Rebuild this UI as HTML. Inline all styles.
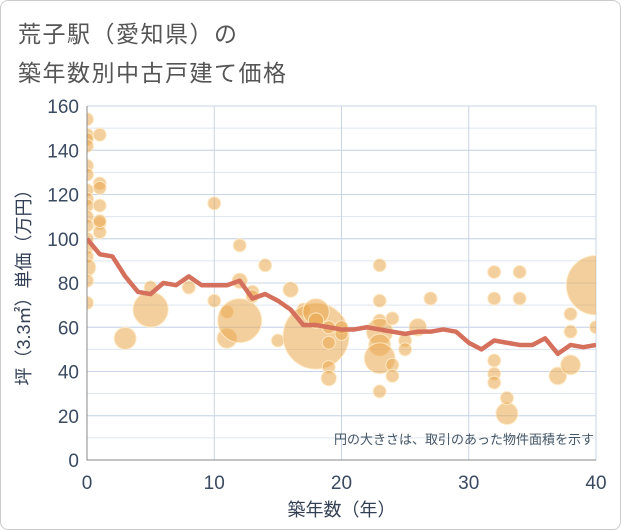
<!DOCTYPE html>
<html><head><meta charset="utf-8"><style>
body{margin:0;background:#fff;font-family:"Liberation Sans","Noto Sans CJK JP",sans-serif}
#card{position:absolute;left:0;top:0;width:619px;height:528px;border:1px solid #ccc;border-radius:8px;background:#fff}
.t{position:absolute;left:18px;font-size:23px;color:#555;letter-spacing:1.5px}
</style></head><body>
<div id="card"></div>
<div class="t" style="top:15px">荒子駅（愛知県）の</div>
<div class="t" style="top:54px">築年数別中古戸建て価格</div>
<svg id="c" width="621" height="530" style="position:absolute;left:0;top:0"></svg>
<script>
const ages=[0,1,2,3,4,5,6,7,8,9,10,11,12,13,14,15,16,17,18,19,20,21,22,23,24,25,26,27,28,29,30,31,32,33,34,35,36,37,38,39,40];
const avgPrice=[100,93,92,83,76,75,80,79,83,79,79,79,81,73,75,72,68,61,61,60,59,59,60,59,58,57,58,58,59,58,53,50,54,53,52,52,55,48,52,51,52];
const bubbleAge=[0,0,0,0,0,0,0,0,0,0,0,0,0,0,0,0,0,1,1,1,1,1,1,1,3,5,5,8,10,10,11,11,12,12,12,13,13,14,15,16,17,18,18,18,19,19,19,19,20,20,23,23,23,23,23,23,23,24,24,24,25,25,26,27,32,32,32,32,32,33,33,34,34,37,38,38,38,40,40];
const bubblePrice=[154,147,145,142,133,129,122,118,115,110,106,100,96,92,87,81,71,147,125,123,115,107,103,108,55,78,68,78,116,72,67,55,97,63,81,76,74,88,54,77,68,56,67,63,53,42,37,60,60,57,88,72,63,58,52,46,31,64,43,38,54,50,60,73,85,73,45,39,35,21,28,85,73,38,66,58,43,79,60];
const bubbleSize=[4,4,4,5,4,5,5,6,6,5,4,5,4,5,8,5,4,5,4,4,5,4,4,5,10,5,16,6,5,5,5,9,4,20,7,6,5,4,4,7,4,30,12,7,5,5,7,5,5,5,4,5,6,12,10,14,5,4,4,4,5,5,8,6,5,5,4,4,4,10,6,5,5,8,5,4,9,27,5];
const xTicks=[0,10,20,30,40], yTicks=[0,20,40,60,80,100,120,140,160];
const L=87,R=596,T=106,B=460;
const X=v=>L+(R-L)*v/40, Y=v=>B-(B-T)*v/160;
const svg=document.getElementById('c'),NS='http://www.w3.org/2000/svg';
function mk(t,a,p){const e=document.createElementNS(NS,t);for(const k in a)e.setAttribute(k,a[k]);(p||svg).appendChild(e);return e;}
const clip=mk('clipPath',{id:'pc'});mk('rect',{x:L,y:T-4,width:R-L,height:B-T+4},clip);
for(let i=0;i<=16;i++){const g=mk('line',{x1:L,x2:R,y1:Y(i*10),y2:Y(i*10),stroke:'#dde5ef','stroke-width':1});

}
yTicks.forEach(v=>{const g=mk('line',{x1:L,x2:R,y1:Y(v),y2:Y(v),stroke:'#c9d5e6','stroke-width':1});


const t=mk('text',{x:L-8,y:Y(v)+7,'text-anchor':'end','font-size':19,fill:'#3a4a60'});t.textContent=v;

});
xTicks.forEach(v=>{const g=mk('line',{x1:X(v),x2:X(v),y1:T,y2:B,stroke:'#c9d5e6','stroke-width':1});


const t=mk('text',{x:X(v),y:489,'text-anchor':'middle','font-size':19,fill:'#3a4a60'});t.textContent=v;

});
const bg=mk('g',{'clip-path':'url(#pc)'});
bubbleAge.forEach((a,i)=>{const c=mk('circle',{cx:X(a),cy:Y(bubblePrice[i]),r:Math.max(bubbleSize[i]*1.1,6.5),fill:'rgba(234,168,78,0.55)',stroke:'rgba(255,235,200,0.9)','stroke-width':1},bg);

});
const ln=mk('polyline',{points:ages.map((a,i)=>X(a)+','+Y(avgPrice[i])).join(' '),fill:'none',stroke:'#d4705c','stroke-width':4.5,'stroke-linejoin':'round'},bg);


const ax=mk('path',{d:`M${L},${T} V${B} H${R}`,fill:'none',stroke:'#888','stroke-width':1});


const n=mk('text',{x:594,y:444,'text-anchor':'end','font-size':13,fill:'#445566'});n.textContent='円の大きさは、取引のあった物件面積を示す';


const xt=mk('text',{x:X(20),y:516,'text-anchor':'middle','font-size':18,fill:'#333f55'});xt.textContent='築年数（年）';


const yt=mk('text',{x:0,y:0,'text-anchor':'middle','font-size':18,fill:'#333f55',transform:`translate(30,${(T+B)/2}) rotate(-90)`});yt.textContent='坪（3.3㎡）単価（万円）';


</script></body></html>
